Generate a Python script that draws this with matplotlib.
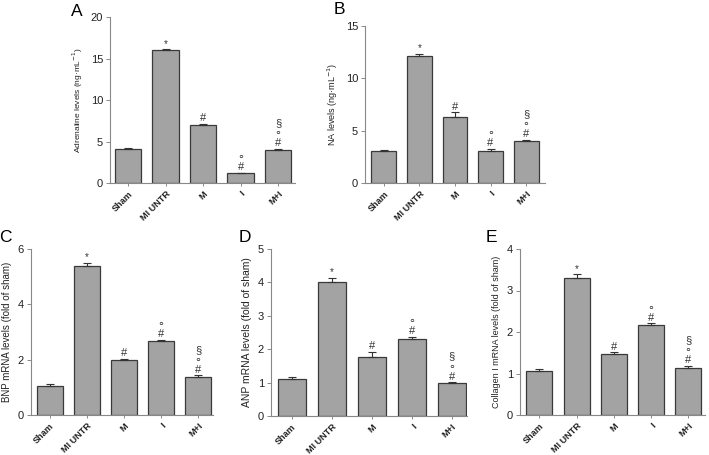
import matplotlib
matplotlib.use("Agg")
import matplotlib.pyplot as plt

plt.rcParams['font.family'] = ['Liberation Sans', 'DejaVu Sans']

groups = ["Sham", "MI UNTR", "M", "I", "M+I"]

adr_mean = [4.1, 16.0, 7.0, 1.2, 4.0]
adr_err = [0.1, 0.1, 0.1, 0.05, 0.1]
na_mean = [3.1, 12.1, 6.35, 3.08, 4.04]
na_err = [0.1, 0.2, 0.4, 0.15, 0.05]
bnp_mean = [1.05, 5.4, 2.0, 2.66, 1.37]
bnp_err = [0.08, 0.1, 0.02, 0.05, 0.06]
anp_mean = [1.1, 4.0, 1.77, 2.3, 0.99]
anp_err = [0.06, 0.14, 0.15, 0.06, 0.02]
col_mean = [1.05, 3.29, 1.46, 2.18, 1.14]
col_err = [0.06, 0.1, 0.05, 0.03, 0.05]

# symbols above bars (bottom to top)
marks = [[], ["*"], ["#"], ["#", "∘"], ["#", "∘", "§"]]

W, H = 709, 455

def px_axes(fig, x0, y0, x1, y1):
    return fig.add_axes([x0 / W, 1 - y1 / H, (x1 - x0) / W, (y1 - y0) / H])

panels = [
    ("A", (110, 17, 295, 183), adr_mean, adr_err, 20, [0, 5, 10, 15, 20],
     "Adrenaline levels (ng·mL$^{-1}$)", 6.0, (71, 4), (-0.48, 4.45)),
    ("B", (365, 26, 545, 183), na_mean, na_err, 15, [0, 5, 10, 15],
     "NA levels (ng·mL$^{-1}$)", 6.5, (334, 2), (-0.53, 4.53)),
    ("C", (31, 249, 213, 415), bnp_mean, bnp_err, 6, [0, 2, 4, 6],
     "BNP mRNA levels (fold of sham)", 7.0, (-1, 230), (-0.5, 4.4)),
    ("D", (271, 249, 467, 416), anp_mean, anp_err, 5, [0, 1, 2, 3, 4, 5],
     "ANP mRNA levels (fold of sham)", 7.5, (239, 230), (-0.52, 4.38)),
    ("E", (520, 249, 705, 415), col_mean, col_err, 4, [0, 1, 2, 3, 4],
     "Collagen I mRNA levels (fold of sham)", 6.5, (486, 230), (-0.52, 4.45)),
]

fig = plt.figure(figsize=(W / 100, H / 100), dpi=100)

for letter, box, mean, err, ymax, yt, ylab, lfs, lpos, xl in panels:
    ax = px_axes(fig, *box)
    x = list(range(len(groups)))
    ax.bar(x, mean, width=0.7, color="#a3a3a3", edgecolor="#3a3a3a", linewidth=0.9,
           yerr=[[0] * len(err), err], error_kw=dict(ecolor="#333333", elinewidth=0.8,
                                                     capsize=3, capthick=0.8))
    ax.set_ylim(0, ymax)
    ax.set_xlim(*xl)
    ax.set_yticks(yt)
    ax.set_xticks(x)
    ax.set_xticklabels(groups, rotation=45, ha="right", rotation_mode="anchor",
                       fontsize=6.6, fontweight="bold", color="#222222")
    ax.tick_params(axis="y", labelsize=8, length=3, width=0.6, color="#777777",
                   labelcolor="#222222", pad=2)
    ax.tick_params(axis="x", length=2.5, width=0.6, color="#777777", pad=2)
    for s in ["top", "right"]:
        ax.spines[s].set_visible(False)
    for s in ["left", "bottom"]:
        ax.spines[s].set_color("#888888")
        ax.spines[s].set_linewidth(0.8)
    ax.set_ylabel(ylab, fontsize=lfs, color="#222222", labelpad=4)

    # significance symbols stacked over the error bar
    for i, m in enumerate(marks):
        if not m:
            continue
        top = mean[i] + err[i]
        fs = 7 if m == ["*"] else 8
        ax.annotate("\n".join(reversed(m)), (i, top), xytext=(0, 0.5),
                    textcoords="offset points", ha="center", va="bottom",
                    multialignment="center", linespacing=1.0,
                    fontsize=fs, color="#333333")

    fig.text(lpos[0] / W, 1 - lpos[1] / H, letter, fontsize=12.5, va="top", ha="left")

fig.savefig("out.png", dpi=100)
